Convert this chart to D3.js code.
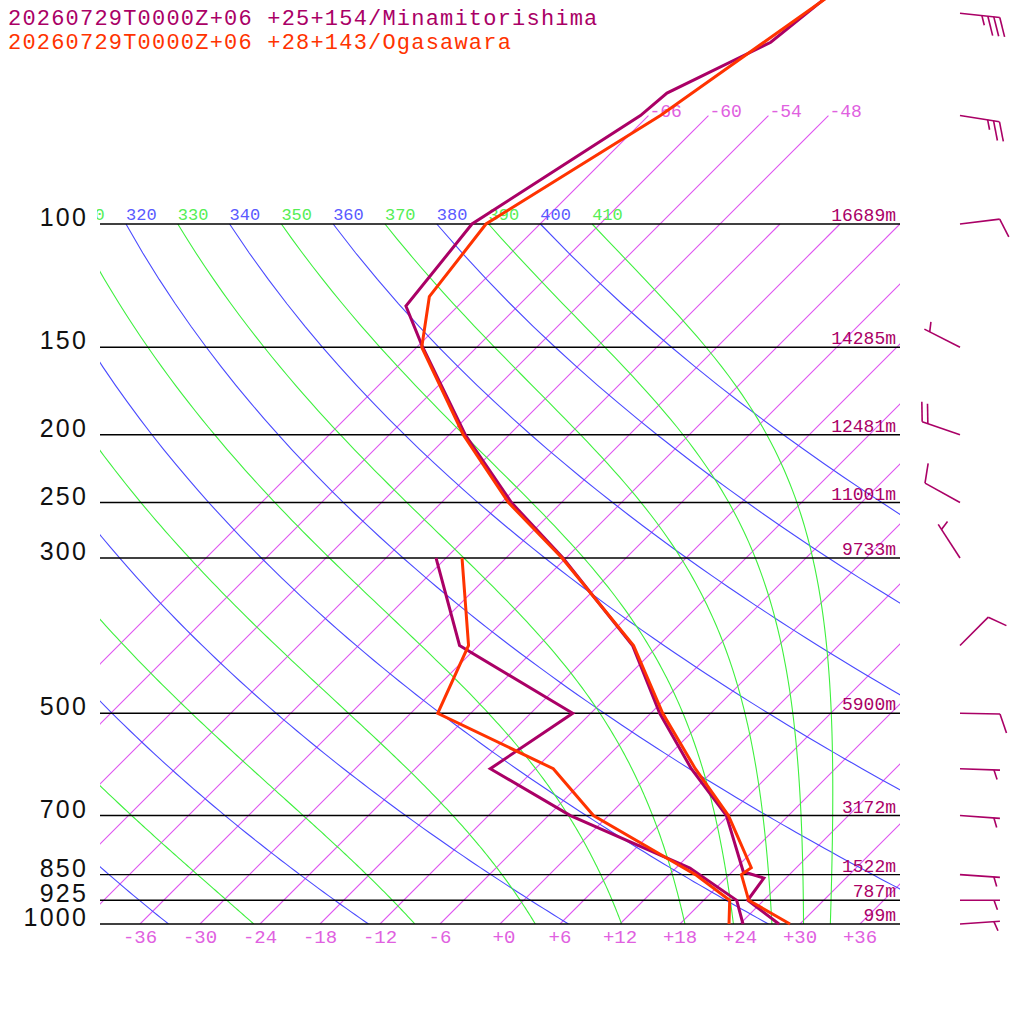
<!DOCTYPE html>
<html>
<head>
<meta charset="utf-8">
<script src="https://cdn.jsdelivr.net/npm/d3@7"></script>
<style>
  body { margin: 0; background: #fff; }
  svg { display: block; }
</style>
</head>
<body>
<svg id="chart" width="1024" height="1024"></svg>
<script>
const titles = ["20260729T0000Z+06 +25+154/Minamitorishima", "20260729T0000Z+06 +28+143/Ogasawara"];
const stationColors = ["#aa0066", "#ff3300"];

// Minamitorishima (purple)
const mtTempP = [1000, 925, 860, 842, 700, 600, 500, 400, 300, 250, 200, 150, 131, 100, 70, 65, 55, 40];
const mtTemp  = [27.9, 22.4, 21.8, 19.1, 11.8, 3.6, -5.1, -14.6, -30.3, -41.0, -52.4, -65.4, -71.2, -72.8, -66.8, -66.4, -61.1, -58.8];
const mtDewP  = [1000, 925, 832, 700, 600, 500, 400, 300];
const mtDew   = [24.3, 21.3, 13.4, -3.8, -16.5, -13.8, -31.9, -43.0];

// Ogasawara (red)
const ogTempP = [1000, 925, 850, 831, 700, 600, 500, 400, 300, 250, 200, 150, 127, 100, 70, 40];
const ogTemp  = [29.0, 22.5, 19.2, 19.5, 12.0, 4.0, -4.8, -14.5, -30.4, -41.3, -52.6, -65.5, -69.8, -71.4, -64.8, -57.8];
const ogDewP  = [1000, 925, 850, 810, 700, 600, 500, 400, 300];
const ogDew   = [22.9, 20.6, 14.6, 10.6, -1.5, -10.2, -27.3, -31.0, -40.4];

// pressure levels with heights (Minamitorishima)
const levels  = [100, 150, 200, 250, 300, 500, 700, 850, 925, 1000];
const heights = ["16689m", "14285m", "12481m", "11001m", "9733m", "5900m", "3172m", "1522m", "787m", "99m"];

// winds (Minamitorishima): direction in degrees, speed in knots
const windP   = [1000, 925, 850, 700, 600, 500, 400, 300, 250, 200, 150, 100, 70, 50];
const windDir = [86, 90, 94, 94, 92, 91, 45, 327, 299, 289, 297, 83, 99, 96];
const windSpd = [5, 5, 5, 5, 5, 10, 10, 5, 10, 20, 5, 10, 25, 35];

// background lines
const isotherms = d3.range(-66, 37, 6);
const isothermsHigh = [-66, -60, -54, -48];   // these run on up to 70 hPa and get a label
const tempTicks = d3.range(-36, 37, 6);
const dryThetas = d3.range(240, 401, 20);
const moistThetas = d3.range(250, 411, 20);
const thetaLabels = d3.range(310, 411, 10);

// ---- scales ----
const svg = d3.select("#chart");
const yScale = d3.scaleLog().domain([1000, 100]).range([924, 224]);
const xScale = d3.scaleLinear().domain([-40, 40]).range([100, 900]);

// skewed position: isotherms lean 45 degrees to the right
function skewX(t, p) {
  return xScale(t) + (yScale(1000) - yScale(p));
}

const mono = "'Liberation Mono', 'DejaVu Sans Mono', monospace";
const isoColor = "rgb(222,84,240)";

svg.append("rect").attr("width", 1024).attr("height", 1024).attr("fill", "#fff");

const defs = svg.append("defs");
defs.append("clipPath").attr("id", "plot")
  .append("rect").attr("x", 100).attr("y", 0).attr("width", 800).attr("height", 924);
defs.append("clipPath").attr("id", "labs")
  .append("rect").attr("x", 97).attr("y", 0).attr("width", 803).attr("height", 924);

const grid = svg.append("g").attr("clip-path", "url(#plot)");

let lineGen = d3.line().x(d => skewX(d.t, d.p)).y(d => yScale(d.p));

// dry adiabats
function dryAdiabat(theta) {
  return d3.range(1000, 99, -10).map(p => ({ p: p, t: theta * Math.pow(p / 1000, 0.2857) - 273.15 }));
}

// pseudo-adiabats, integrated from 100 hPa down to 1000 hPa
function moistRate(T, p) {
  const Rd = 287.04, Cp = 1005.7, Lv = 2.501e6, eps = 0.622;
  let es = 6.112 * Math.exp(17.67 * (T - 273.15) / (T - 29.65));
  let rs = eps * es / (p - es);
  return (Rd * T + Lv * rs) / (Cp + Lv * Lv * rs * eps / (Rd * T * T)) / p;
}
function moistAdiabat(theta) {
  let T = theta * Math.pow(0.1, 0.2857);
  let pts = [{ p: 100, t: T - 273.15 }];
  let h = 5;
  for (let p = 100; p < 1000; p += h) {
    let k1 = moistRate(T, p);
    let k2 = moistRate(T + h * k1 / 2, p + h / 2);
    let k3 = moistRate(T + h * k2 / 2, p + h / 2);
    let k4 = moistRate(T + h * k3, p + h);
    T += h * (k1 + 2 * k2 + 2 * k3 + k4) / 6;
    pts.push({ p: p + h, t: T - 273.15 });
  }
  return pts;
}

// isotherms, as straight lines
grid.append("g")
  .selectAll("line").data(isotherms).enter().append("line")
  .attr("x1", t => skewX(t, 1000)).attr("y1", yScale(1000))
  .attr("x2", t => skewX(t, isothermsHigh.includes(t) ? 70 : 100))
  .attr("y2", t => yScale(isothermsHigh.includes(t) ? 70 : 100))
  .attr("stroke", isoColor).attr("stroke-width", 1.1);

grid.append("g")
  .selectAll("path").data(dryThetas).enter().append("path")
  .attr("fill", "none").attr("stroke", "#4a4aff").attr("stroke-width", 1.1)
  .attr("d", th => lineGen(dryAdiabat(th)));

grid.append("g")
  .selectAll("path").data(moistThetas).enter().append("path")
  .attr("fill", "none").attr("stroke", "#3ef03e").attr("stroke-width", 1.1)
  .attr("d", th => lineGen(moistAdiabat(th)));

// pressure lines
svg.append("g").selectAll("line").data(levels).enter().append("line")
  .attr("x1", 100).attr("x2", 900)
  .attr("y1", d => yScale(d)).attr("y2", d => yScale(d))
  .attr("stroke", "#000").attr("stroke-width", 1.4);

// theta labels along the 100 hPa line
svg.append("g").attr("clip-path", "url(#labs)")
  .attr("font-family", mono).attr("font-size", 17)
  .selectAll("text").data(thetaLabels).enter().append("text")
  .attr("x", th => skewX(th * Math.pow(0.1, 0.2857) - 273.15, 100))
  .attr("y", yScale(100) - 4)
  .attr("fill", th => th % 20 === 0 ? "#5a5aff" : "#55ee55")
  .text(th => th);

// isotherm labels on top
svg.append("g").selectAll("text").data(isothermsHigh).enter().append("text")
  .attr("x", t => skewX(t, 70) + 1).attr("y", yScale(70) + 1)
  .attr("font-family", mono).attr("font-size", 18).attr("fill", "#e060e0")
  .text(t => (t > 0 ? "+" : "") + t);

// temperature axis
svg.append("g").selectAll("text").data(tempTicks).enter().append("text")
  .attr("x", t => xScale(t) + (t === 0 ? 4 : 0)).attr("y", 943)
  .attr("text-anchor", "middle")
  .attr("font-family", mono).attr("font-size", 19).attr("fill", "#e060e0")
  .text(t => (t >= 0 ? "+" : "") + t);

// pressure labels
svg.append("g").selectAll("text").data(levels).enter().append("text")
  .attr("x", 88).attr("y", d => yScale(d) + 2)
  .attr("text-anchor", "end")
  .attr("font-family", "'Liberation Sans', Arial, sans-serif").attr("font-size", 25)
  .attr("letter-spacing", 2.2).attr("fill", "#111")
  .text(d => d);

// height labels
svg.append("g").selectAll("text").data(levels).enter().append("text")
  .attr("x", 896).attr("y", d => yScale(d) - 3)
  .attr("text-anchor", "end")
  .attr("font-family", mono).attr("font-size", 18).attr("fill", stationColors[0])
  .text((d, i) => heights[i]);

// ---- soundings ----
function plotProfile(ps, ts, color) {
  let pts = ps.map((p, i) => ({ p: p, t: ts[i] }));
  svg.append("path")
    .datum(pts)
    .attr("fill", "none")
    .attr("stroke", color)
    .attr("stroke-width", 3)
    .attr("stroke-linejoin", "miter")
    .attr("d", lineGen);
}
plotProfile(mtTempP, mtTemp, stationColors[0]);
plotProfile(mtDewP, mtDew, stationColors[0]);
plotProfile(ogTempP, ogTemp, stationColors[1]);
plotProfile(ogDewP, ogDew, stationColors[1]);

// ---- wind barbs ----
function drawBarb(x0, y0, dir, spd, color) {
  let a = dir * Math.PI / 180;
  let ux = Math.sin(a), uy = -Math.cos(a);
  let tipX = x0 + ux * 40, tipY = y0 + uy * 40;
  let g = svg.append("g").attr("stroke", color).attr("stroke-width", 1.6).attr("fill", "none");
  g.append("line").attr("x1", x0).attr("y1", y0).attr("x2", tipX).attr("y2", tipY);
  let ang = Math.atan2(uy, ux) + 70 * Math.PI / 180;
  let bx = Math.cos(ang), by = Math.sin(ang);
  let full = Math.floor(spd / 10), half = spd % 10 >= 5 ? 1 : 0;
  let pos = 0;
  for (let i = 0; i < full; i++) {
    let sx = tipX - ux * pos, sy = tipY - uy * pos;
    g.append("line").attr("x1", sx).attr("y1", sy).attr("x2", sx + bx * 20).attr("y2", sy + by * 20);
    pos += 6;
  }
  if (half) {
    if (full === 0) pos = 6;
    let sx = tipX - ux * pos, sy = tipY - uy * pos;
    g.append("line").attr("x1", sx).attr("y1", sy).attr("x2", sx + bx * 10).attr("y2", sy + by * 10);
  }
}
windP.forEach((p, i) => drawBarb(960, yScale(p), windDir[i], windSpd[i], stationColors[0]));

// ---- titles ----
svg.append("g").selectAll("text").data(titles).enter().append("text")
  .attr("x", 8).attr("y", (d, i) => 25 + i * 24)
  .attr("font-family", mono).attr("font-size", 22)
  .attr("letter-spacing", 1.2)
  .attr("fill", (d, i) => stationColors[i])
  .text(d => d);
</script>
</body>
</html>
